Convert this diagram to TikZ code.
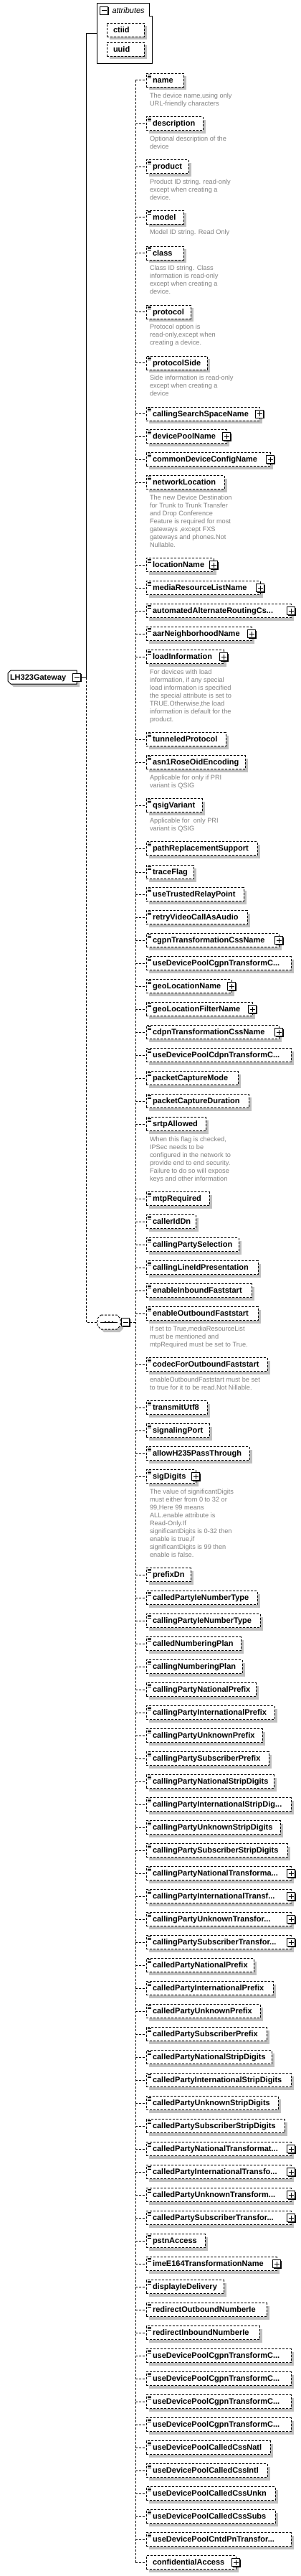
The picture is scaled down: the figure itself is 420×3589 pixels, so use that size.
\documentclass[tikz,border=0pt]{standalone}
\usepackage{fontspec}
\newfontfamily\lsans{Liberation Sans}
\usetikzlibrary{shadows}
\definecolor{shadowgray}{RGB}{192,192,192}
\definecolor{descgray}{RGB}{128,128,128}
\tikzset{
 elfont/.style={font=\lsans\bfseries\fontsize{11}{13}\selectfont},
 conn/.style={dash pattern=on 3pt off 2pt},
 elbox/.style={draw, dash pattern=on 3pt off 2pt, fill=white, anchor=west, inner xsep=9pt, inner ysep=0pt, outer sep=0pt, minimum height=19pt, text height=9pt, text depth=2pt, elfont, general shadow={fill=shadowgray, shadow xshift=4pt, shadow yshift=-4pt}},
 desc/.style={anchor=north west, inner sep=0pt, outer sep=0pt, align=left, text=descgray, font=\lsans\fontsize{9.2}{11}\selectfont},
 iconbox/.style={draw, solid, fill=white, minimum size=11pt, inner sep=0pt, outer sep=0pt, general shadow={fill=black, shadow xshift=1pt, shadow yshift=-1pt}},
 plusbox/.style={iconbox, path picture={\draw[solid, line width=1pt] ([xshift=-3.5pt]path picture bounding box.center) -- ([xshift=3.5pt]path picture bounding box.center) ([yshift=-3.5pt]path picture bounding box.center) -- ([yshift=3.5pt]path picture bounding box.center);}},
 minusbox/.style={iconbox, path picture={\draw[solid, line width=1pt] ([xshift=-3.5pt]path picture bounding box.center) -- ([xshift=3.5pt]path picture bounding box.center);}},
}
\newcommand\XEl[4]{%
 \node[elbox] (#1) at (204,#2) {\makebox[\dimexpr#4pt-222pt\relax][l]{#3}};
 \draw[solid, line width=0.9pt] ([shift={(2,1.5)}]#1.north west) -- ++(5,0)
   ([shift={(2,3.5)}]#1.north west) -- ++(5,0)
   ([shift={(2,5.5)}]#1.north west) -- ++(5,0);
 \draw[conn] (bus |- #1.west) -- (#1.west);}
\newcommand\XElP[4]{\XEl{#1}{#2}{#3}{#4}\node[plusbox] (#1p) at (#1.east) {};}
\newcommand\XDs[2]{\node[desc] (#1d) at ([shift={(5,17.2)}]#1.west) {\rule{0pt}{7.2pt}#2};}
\begin{document}
\begin{tikzpicture}[x=1pt, y=-1pt, line width=1pt]
\useasboundingbox (0,0) rectangle (420,3589);
\coordinate (bus) at (189,0);
% attributes group
\draw (135,5) -- (208,5) -- (208,23) -- (212,23) -- (212,89) -- (135,89) -- cycle;
\node[inner sep=0pt, outer sep=0pt, minimum width=77pt, minimum height=84pt, anchor=north west] (attrs) at (135,5) {};
\node[minusbox] (attrsm) at (145,15) {};
\node[anchor=base west, inner sep=0pt, font=\lsans\itshape\fontsize{11}{13}\selectfont] (attrst) at (156,18.5) {attributes};
\node[elbox] (ctiid) at (149,42) {\makebox[34pt][l]{ctiid}};
\node[elbox] (uuid) at (149,69) {\makebox[34pt][l]{uuid}};
% gateway
\fill[shadowgray] (19,938) -- (111,938) -- (111,957) -- (19,957) -- (15,953) -- (15,942) -- cycle;
\draw[fill=white] (15,934) -- (107,934) -- (107,953) -- (15,953) -- (11,949) -- (11,938) -- cycle;
\node[anchor=west, inner xsep=3pt, inner ysep=0pt, outer sep=0pt, minimum height=19pt, text height=9pt, text depth=2pt, elfont] (gw) at (11,943.5) {\makebox[90pt][l]{LH323Gateway}};
\node[minusbox] (gwm) at (107,943.5) {};
\coordinate (jn) at (120,943.5);
\draw (gwm.east) -- (jn) |- (attrs.west);
% sequence
\fill[shadowgray] (145,1836) -- (167,1836) -- (172,1841) -- (172,1851) -- (167,1856) -- (145,1856) -- (140,1851) -- (140,1841) -- cycle;
\draw[conn, fill=white] (141,1832) -- (163,1832) -- (168,1837) -- (168,1847) -- (163,1852) -- (141,1852) -- (136,1847) -- (136,1837) -- cycle;
\node[inner sep=0pt, outer sep=0pt, minimum width=32pt, minimum height=20pt] (seq) at (152,1842) {};
\draw (140,1842) -- (164,1842);
\fill (147,1842) circle (1.4pt) (152,1842) circle (1.4pt) (157,1842) circle (1.4pt);
\node[minusbox] (seqm) at (175,1842) {};
\draw[conn] (jn) |- (seq.west);
\draw[conn] (seqm.east) -- (bus |- seqm.east);
% elements
\XEl{e1}{112}{name}{256}
\XDs{e1}{The device name,using only\\URL-friendly characters}
\XEl{e2}{172}{description}{283}
\XDs{e2}{Optional description of the\\device}
\XEl{e3}{232}{product}{263}
\XDs{e3}{Product ID string. read-only\\except when creating a\\device.}
\XEl{e4}{302.5}{model}{256}
\XDs{e4}{Model ID string. Read Only}
\XEl{e5}{352.5}{class}{256}
\XDs{e5}{Class ID string. Class\\information is read-only\\except when creating a\\device.}
\XEl{e6}{434.5}{protocol}{266}
\XDs{e6}{Protocol option is\\read-only,except when\\creating a device.}
\XEl{e7}{505.5}{protocolSide}{289}
\XDs{e7}{Side information is read-only\\except when creating a\\device}
\XElP{e8}{576.5}{callingSearchSpaceName}{362}
\XElP{e9}{608}{devicePoolName}{316}
\XElP{e10}{640}{commonDeviceConfigName}{377}
\XEl{e11}{672}{networkLocation}{313}
\XDs{e11}{The new Device Destination\\for Trunk to Trunk Transfer\\and Drop Conference\\Feature is required for most\\gateways ,except FXS\\gateways and phones.Not\\Nullable.}
\XElP{e12}{787}{locationName}{298}
\XElP{e13}{819}{mediaResourceListName}{363}
\XElP{e14}{851}{automatedAlternateRoutingCs...}{406}
\XElP{e15}{883}{aarNeighborhoodName}{351}
\XElP{e16}{915}{loadInformation}{312}
\XDs{e16}{For devices with load\\information, if any special\\load information is specified\\the special attribute is set to\\TRUE.Otherwise,the load\\information is default for the\\product.}
\XEl{e17}{1030}{tunneledProtocol}{315}
\XEl{e18}{1062}{asn1RoseOidEncoding}{342}
\XDs{e18}{Applicable for only if PRI\\variant is QSIG}
\XEl{e19}{1122}{qsigVariant}{282}
\XDs{e19}{Applicable for\ \ only PRI\\variant is QSIG}
\XEl{e20}{1182}{pathReplacementSupport}{359}
\XEl{e21}{1215}{traceFlag}{270}
\XEl{e22}{1246}{useTrustedRelayPoint}{340}
\XEl{e23}{1278}{retryVideoCallAsAudio}{345}
\XElP{e24}{1310}{cgpnTransformationCssName}{389}
\XEl{e25}{1342}{useDevicePoolCgpnTransformC...}{406}
\XElP{e26}{1374}{geoLocationName}{323}
\XElP{e27}{1406}{geoLocationFilterName}{352}
\XElP{e28}{1438}{cdpnTransformationCssName}{389}
\XEl{e29}{1470}{useDevicePoolCdpnTransformC...}{406}
\XEl{e30}{1502}{packetCaptureMode}{332}
\XEl{e31}{1534}{packetCaptureDuration}{347}
\XEl{e32}{1566}{srtpAllowed}{287}
\XDs{e32}{When this flag is checked,\\IPSec needs to be\\configured in the network to\\provide end to end security.\\Failure to do so will expose\\keys and other information}
\XEl{e33}{1670}{mtpRequired}{292}
\XEl{e34}{1702}{callerIdDn}{273}
\XEl{e35}{1734}{callingPartySelection}{333}
\XEl{e36}{1766}{callingLineIdPresentation}{360}
\XEl{e37}{1798}{enableInboundFaststart}{351}
\XEl{e38}{1830}{enableOutboundFaststart}{360}
\XDs{e38}{If set to True,mediaResourceList\\must be mentioned and\\mtpRequired must be set to True.}
\XEl{e39}{1901}{codecForOutboundFaststart}{373}
\XDs{e39}{enableOutboundFaststart must be set\\to true for it to be read.Not Nillable.}
\XEl{e40}{1961}{transmitUtf8}{289}
\XEl{e41}{1993}{signalingPort}{292}
\XEl{e42}{2025}{allowH235PassThrough}{348}
\XElP{e43}{2057}{sigDigits}{273}
\XDs{e43}{The value of significantDigits\\must either from 0 to 32 or\\99,Here 99 means\\ALL.enable attribute is\\Read-Only.If\\significantDigits is 0-32 then\\enable is true,if\\significantDigits is 99 then\\enable is false.}
\XEl{e44}{2194}{prefixDn}{266}
\XEl{e45}{2226}{calledPartyIeNumberType}{359}
\XEl{e46}{2258}{callingPartyIeNumberType}{363}
\XEl{e47}{2290}{calledNumberingPlan}{336}
\XEl{e48}{2322}{callingNumberingPlan}{338}
\XEl{e49}{2354}{callingPartyNationalPrefix}{357}
\XEl{e50}{2386}{callingPartyInternationalPrefix}{383}
\XEl{e51}{2418}{callingPartyUnknownPrefix}{366}
\XEl{e52}{2450}{callingPartySubscriberPrefix}{375}
\XEl{e53}{2482}{callingPartyNationalStripDigits}{382}
\XEl{e54}{2514}{callingPartyInternationalStripDig...}{406}
\XEl{e55}{2546}{callingPartyUnknownStripDigits}{391}
\XEl{e56}{2578}{callingPartySubscriberStripDigits}{401}
\XElP{e57}{2610}{callingPartyNationalTransforma...}{406}
\XElP{e58}{2642}{callingPartyInternationalTransf...}{406}
\XElP{e59}{2674}{callingPartyUnknownTransfor...}{406}
\XElP{e60}{2706}{callingPartySubscriberTransfor...}{406}
\XEl{e61}{2738}{calledPartyNationalPrefix}{354}
\XEl{e62}{2770}{calledPartyInternationalPrefix}{381}
\XEl{e63}{2802}{calledPartyUnknownPrefix}{363}
\XEl{e64}{2834}{calledPartySubscriberPrefix}{372}
\XEl{e65}{2866}{calledPartyNationalStripDigits}{379}
\XEl{e66}{2898}{calledPartyInternationalStripDigits}{406}
\XEl{e67}{2930}{calledPartyUnknownStripDigits}{388}
\XEl{e68}{2962}{calledPartySubscriberStripDigits}{397}
\XElP{e69}{2994}{calledPartyNationalTransformat...}{406}
\XElP{e70}{3026}{calledPartyInternationalTransfo...}{406}
\XElP{e71}{3058}{calledPartyUnknownTransform...}{406}
\XElP{e72}{3090}{calledPartySubscriberTransfor...}{406}
\XEl{e73}{3122}{pstnAccess}{286}
\XElP{e74}{3154}{imeE164TransformationName}{386}
\XEl{e75}{3186}{displayIeDelivery}{312}
\XEl{e76}{3218}{redirectOutboundNumberIe}{372}
\XEl{e77}{3250}{redirectInboundNumberIe}{362}
\XEl{e78}{3282}{useDevicePoolCgpnTransformC...}{406}
\XEl{e79}{3314}{useDevicePoolCgpnTransformC...}{406}
\XEl{e80}{3346}{useDevicePoolCgpnTransformC...}{406}
\XEl{e81}{3378}{useDevicePoolCgpnTransformC...}{406}
\XEl{e82}{3410}{useDevicePoolCalledCssNatl}{377}
\XEl{e83}{3442}{useDevicePoolCalledCssIntl}{373}
\XEl{e84}{3474}{useDevicePoolCalledCssUnkn}{384}
\XEl{e85}{3506}{useDevicePoolCalledCssSubs}{384}
\XEl{e86}{3538}{useDevicePoolCntdPnTransfor...}{406}
\node[elbox] (e87) at (204,3570) {\makebox[\dimexpr329pt-222pt\relax][l]{confidentialAccess}};
\node[plusbox] (e87p) at (e87.east) {};
\draw[conn] (bus |- e87.west) -- (e87.west);
% sequence bus
\draw[conn] (bus |- e1.west) -- (bus |- e87.west);
\end{tikzpicture}
\end{document}
